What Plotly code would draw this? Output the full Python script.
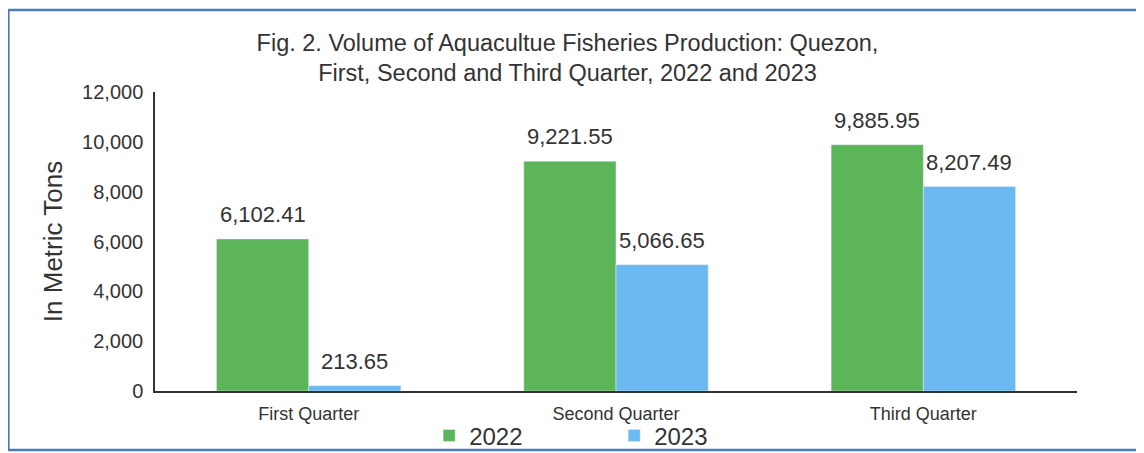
import plotly.graph_objects as go

categories = ["First Quarter", "Second Quarter", "Third Quarter"]
values_2022 = [6102.41, 9221.55, 9885.95]
values_2023 = [213.65, 5066.65, 8207.49]
labels_2022 = ["6,102.41", "9,221.55", "9,885.95"]
labels_2023 = ["213.65", "5,066.65", "8,207.49"]
tick_vals = [0, 2000, 4000, 6000, 8000, 10000, 12000]
tick_text = ["0", "2,000", "4,000", "6,000", "8,000", "10,000", "12,000"]

font_family = "Liberation Sans, Arial, sans-serif"
txt = "#333333"

W, H = 1136, 445
L, R, T, B = 147, 67, 84, 62
plot_w = W - L - R
bargap = 0.4
bar_px = plot_w / len(categories) * (1 - bargap) / 2

fig = go.Figure()
fig.add_trace(go.Bar(x=categories, y=values_2022, name="2022", marker_color="#5DB55A"))
fig.add_trace(go.Bar(x=categories, y=values_2023, name="2023", marker_color="#6BB9F0"))

for vals, labs, sgn in [(values_2022, labels_2022, -1), (values_2023, labels_2023, 1)]:
    for c, v, lab in zip(categories, vals, labs):
        fig.add_annotation(x=c, y=v, text=lab, showarrow=False, xref="x", yref="y",
                           xshift=sgn * bar_px / 2, yshift=10, yanchor="bottom",
                           font=dict(size=22, color=txt, family=font_family))

fig.update_layout(
    width=W, height=H,
    margin=dict(l=L, r=R, t=T, b=B, autoexpand=False),
    paper_bgcolor="white", plot_bgcolor="white",
    font=dict(family=font_family, color=txt),
    barmode="group", bargap=bargap, bargroupgap=0,
    title=dict(text="Fig. 2. Volume of Aquacultue Fisheries Production: Quezon,<br>First, Second and Third Quarter, 2022 and 2023",
               x=0.4925, xanchor="center", yref="container", y=0.904, yanchor="top",
               font=dict(size=23.5, color=txt)),
    xaxis=dict(showline=True, linecolor="#333333", linewidth=1.5, ticks="",
               automargin=False, ticklabelstandoff=6, tickfont=dict(size=18, color=txt)),
    yaxis=dict(range=[0, 12000], tickvals=tick_vals, ticktext=tick_text,
               showline=True, linecolor="#333333", linewidth=1.5, showgrid=False,
               zeroline=False, ticks="", automargin=False, ticklabelstandoff=6,
               tickfont=dict(size=20, color=txt),
               title=dict(text="In Metric Tons", font=dict(size=26, color=txt), standoff=12)),
    legend=dict(orientation="h", x=0.498, xanchor="center", y=-0.075, yanchor="top",
                bgcolor="rgba(0,0,0,0)",
                font=dict(size=24, color=txt), traceorder="normal",
                itemwidth=30, entrywidth=140),
    showlegend=True,
)

fig.add_shape(type="rect", xref="paper", yref="paper",
              x0=-0.159, x1=1.068, y0=-0.197, y1=1.274,
              line=dict(color="#4A7CC0", width=2.5), fillcolor="rgba(0,0,0,0)", layer="below")

fig.write_html("out.html")
